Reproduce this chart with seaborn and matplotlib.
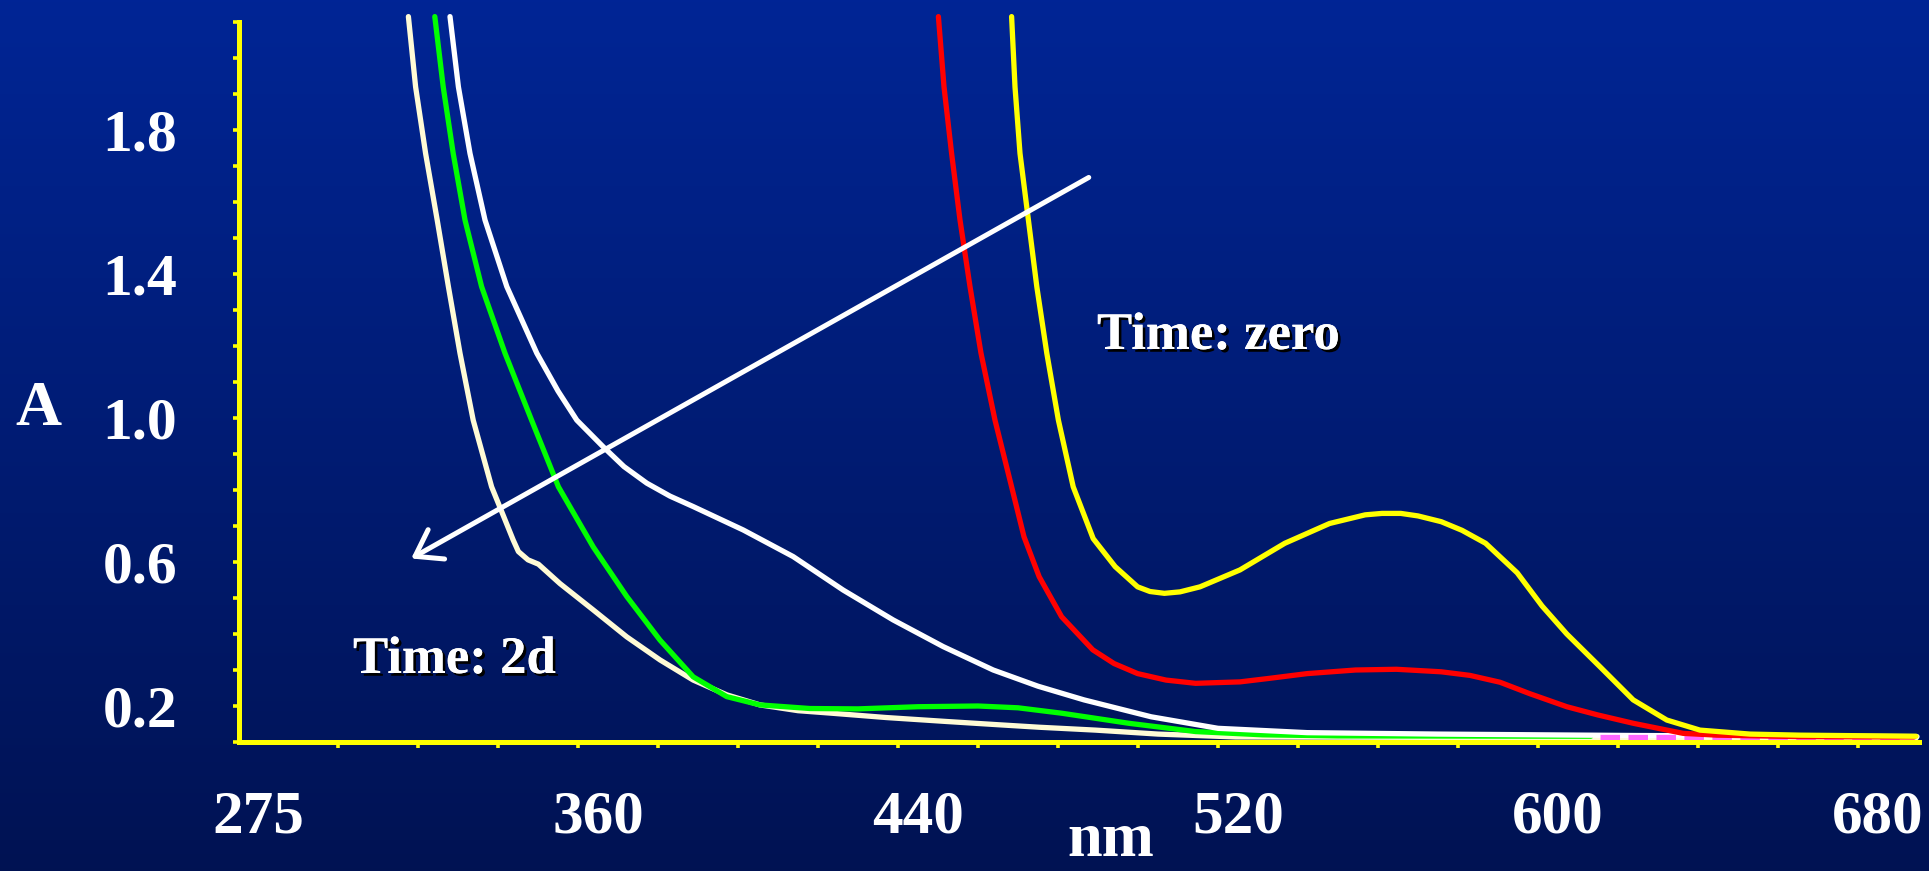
import numpy as np
import pandas as pd
import matplotlib
matplotlib.use("Agg")
import matplotlib.pyplot as plt
import matplotlib.patheffects as pe
import seaborn as sns

# spectra (nm, absorbance)
yellow_nm = [463.4, 464.25, 465.5, 467.6, 469.7, 472.2, 475.1, 478.8, 483.8, 489.3, 494.9, 498.0,
             501.6, 505.5, 510.5, 520.5, 531.7, 542.9, 551.8, 556.0, 560.7, 565.0, 570.8, 576.0,
             581.9, 589.8, 596.0, 602.2, 610.5, 618.8, 627.2, 635.5, 648.0, 660.5, 689.5]
yellow_a = [2.115, 1.92, 1.735, 1.55, 1.365, 1.18, 0.994, 0.809, 0.665, 0.587, 0.531, 0.518,
            0.513, 0.517, 0.531, 0.578, 0.652, 0.707, 0.731, 0.735, 0.735, 0.728, 0.712, 0.688,
            0.652, 0.570, 0.478, 0.400, 0.309, 0.217, 0.161, 0.133, 0.122, 0.119, 0.116]

red_nm = [445.1, 446.5, 448.4, 450.5, 453.0, 455.75, 459.25, 463.4, 466.5, 470.3, 475.9, 483.7,
          489.0, 494.9, 502.0, 509.4, 520.5, 528.0, 537.3, 549.4, 559.6, 570.8, 578.0, 585.5,
          593.0, 602.2, 610.0, 618.8, 631.3, 639.7, 660.0, 689.0]
red_a = [2.115, 1.92, 1.735, 1.55, 1.365, 1.18, 0.994, 0.809, 0.670, 0.559, 0.448, 0.356,
         0.318, 0.290, 0.272, 0.263, 0.267, 0.277, 0.290, 0.300, 0.302, 0.295, 0.285, 0.266,
         0.234, 0.198, 0.175, 0.152, 0.124, 0.119, 0.115, 0.114]

white_nm = [323.0, 325.1, 328.0, 331.75, 337.2, 344.7, 350.0, 354.7, 361.3, 366.5, 372.2, 378.0,
            383.8, 396.3, 408.8, 421.3, 433.8, 446.3, 458.8, 470.0, 481.5, 498.3, 515.0, 537.3,
            570.0, 620.0, 689.75]
white_a = [2.115, 1.92, 1.735, 1.55, 1.365, 1.18, 1.075, 0.994, 0.920, 0.865, 0.819, 0.783,
           0.754, 0.689, 0.615, 0.522, 0.439, 0.365, 0.300, 0.255, 0.217, 0.170, 0.138, 0.126,
           0.122, 0.118, 0.115]

green_nm = [319.2, 321.3, 323.8, 326.75, 330.9, 336.75, 343.4, 350.1, 358.8, 367.2, 375.5, 383.8,
            392.2, 400.5, 413.0, 425.0, 440.0, 455.0, 465.0, 475.9, 492.7, 509.4, 526.1, 545.0,
            608.2]
green_a = [2.115, 1.92, 1.735, 1.55, 1.365, 1.18, 0.994, 0.809, 0.642, 0.504, 0.383, 0.281,
           0.226, 0.203, 0.193, 0.192, 0.198, 0.200, 0.195, 0.180, 0.152, 0.129, 0.120, 0.117,
           0.116]

cream_nm = [312.6, 314.4, 316.9, 319.8, 322.6, 325.5, 328.8, 333.4, 336.0, 338.8, 340.1, 342.5,
            345.1, 348.0, 350.5, 358.8, 367.2, 375.5, 383.8, 392.2, 400.5, 410.0, 418.4, 432.0,
            447.1, 460.0, 470.3, 484.4, 500.0, 519.4, 560.0, 610.0, 650.0, 689.5]
cream_a = [2.115, 1.92, 1.735, 1.55, 1.365, 1.18, 0.994, 0.809, 0.738, 0.661, 0.629, 0.606,
           0.594, 0.565, 0.540, 0.467, 0.392, 0.328, 0.272, 0.231, 0.203, 0.187, 0.180, 0.168,
           0.157, 0.148, 0.141, 0.133, 0.122, 0.114, 0.113, 0.112, 0.111, 0.111]

pink_nm = [610.5, 686.0]
pink_a = [0.115, 0.115]

x_labels = [275, 360, 440, 520, 600, 680]
y_labels = [0.2, 0.6, 1.0, 1.4, 1.8]

# figure and gradient background
sns.set_style("white")
plt.rcParams["font.family"] = ["Liberation Serif", "DejaVu Serif"]
plt.rcParams["font.weight"] = "bold"

fig = plt.figure(figsize=(19.29, 8.71), dpi=100)
bg = fig.add_axes([0, 0, 1, 1], zorder=0)
top = np.array([0.0, 0.145, 0.585])
bot = np.array([0.0, 0.072, 0.325])
t = np.linspace(0, 1, 256)[:, None]
grad = (top * (1 - t) + bot * t)[:, None, :]
bg.imshow(grad, aspect="auto", extent=[0, 1, 0, 1])
bg.axis("off")

ax = fig.add_axes([239 / 1929, 129 / 871, 1680 / 1929, 720 / 871], zorder=1)
ax.patch.set_alpha(0)

series = [
    (cream_nm, cream_a, "#fffbd6", "-"),
    (green_nm, green_a, "#00ff00", "-"),
    (white_nm, white_a, "#ffffff", "-"),
    (pink_nm, pink_a, "#ff66ff", "--"),
    (red_nm, red_a, "#ff0000", "-"),
    (yellow_nm, yellow_a, "#ffff00", "-"),
]
for xs, ys, col, ls in series:
    df = pd.DataFrame({"nm": xs, "A": ys})
    sns.lineplot(data=df, x="nm", y="A", ax=ax, color=col, lw=3.8, ls=ls,
                 sort=False, clip_on=False)

ax.set_xlim(270.25, 690.25)
ax.set_ylim(0.1, 2.1)

# axes styling
for side in ["top", "right"]:
    ax.spines[side].set_visible(False)
for side in ["left", "bottom"]:
    ax.spines[side].set_color("#ffff00")
    ax.spines[side].set_linewidth(3.6)
    ax.spines[side].set_zorder(5)

ax.set_xticks(x_labels)
ax.set_xticklabels([str(v) for v in x_labels])
ax.set_xticks(np.arange(275, 690, 20), minor=True)
ax.set_yticks(y_labels)
ax.set_yticklabels([f"{v:.1f}" for v in y_labels])
ax.set_yticks([v / 10 for v in range(1, 22) if v not in (2, 6, 10, 14, 18)], minor=True)

ax.tick_params(bottom=True, left=True, which="both")
ax.tick_params(axis="x", which="major", length=0, pad=34, labelsize=44, labelcolor="white")
ax.tick_params(axis="x", which="minor", length=4.5, width=2.6, color="#ffff00", direction="out")
ax.tick_params(axis="y", which="both", length=4.5, width=2.6, color="#ffff00", direction="out")
ax.tick_params(axis="y", which="major", pad=40, labelsize=43, labelcolor="white")
ax.set_xlabel("")
ax.set_ylabel("")

# arrow showing the time course
ax.annotate("", xy=(312.7, 0.606), xytext=(483.3, 1.672),
            arrowprops=dict(arrowstyle="->,head_length=0.8,head_width=0.55",
                            color="white", lw=3.6, mutation_scale=22))

shadow = [pe.withSimplePatchShadow(offset=(2, -2), shadow_rgbFace="black", alpha=1.0), pe.Normal()]
fig.text(1097 / 1929, 1 - 349 / 871, "Time: zero", color="white", fontsize=38,
         fontweight="bold", va="baseline", ha="left", path_effects=shadow)
fig.text(353 / 1929, 1 - 673 / 871, "Time: 2d", color="white", fontsize=38,
         fontweight="bold", va="baseline", ha="left", path_effects=shadow)

fig.text(38 / 1929, 1 - 425 / 871, "A", color="white", fontsize=46,
         fontweight="bold", va="baseline", ha="center")
fig.text(1111 / 1929, 0.001, "nm", color="white", fontsize=45,
         fontweight="bold", va="bottom", ha="center")

fig.savefig("out.png", dpi=100)
